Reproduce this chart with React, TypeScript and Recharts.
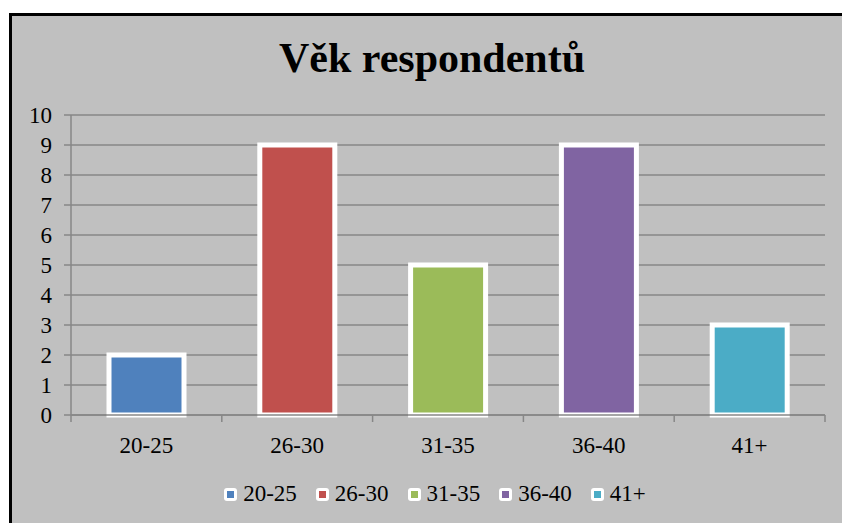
import React from "react";
import { Bar, BarChart, CartesianGrid, Cell, Legend, XAxis, YAxis } from "recharts";

const categories = ["20-25", "26-30", "31-35", "36-40", "41+"];
const counts = [2, 9, 5, 9, 3];
const colors = ["#4F81BD", "#C0504D", "#9BBB59", "#8064A2", "#4BACC6"];
const yTicks = [0, 1, 2, 3, 4, 5, 6, 7, 8, 9, 10];

const FONT = "'Liberation Serif', 'Times New Roman', serif";
const GRID = "#878787";

const CHART_W = 842;
const MARGIN = { top: 115, right: 17, bottom: 48, left: 11 };
const Y_AXIS_W = 60;
const PLOT_W = CHART_W - MARGIN.left - MARGIN.right - Y_AXIS_W;
const HALF_BAND = PLOT_W / categories.length / 2;

const data = categories.map((name, i) => ({ name, value: counts[i] }));

// category labels centred, tick marks on the band edges (Excel style)
function CategoryTick(props: any) {
  const { x, y, payload, index } = props;
  return (
    <g>
      <line x1={x - HALF_BAND} x2={x - HALF_BAND} y1={y} y2={y + 7} stroke={GRID} strokeWidth={1.5} />
      {index === categories.length - 1 && (
        <line x1={x + HALF_BAND} x2={x + HALF_BAND} y1={y} y2={y + 7} stroke={GRID} strokeWidth={1.5} />
      )}
      <text x={x} y={y + 22} dy="0.71em" textAnchor="middle" fill="#000" fontSize={23} fontFamily={FONT}>
        {payload.value}
      </text>
    </g>
  );
}

function LegendRow() {
  return (
    <div
      style={{
        display: "flex",
        justifyContent: "center",
        alignItems: "center",
        fontFamily: FONT,
        fontSize: 23,
        color: "#000",
      }}
    >
      {categories.map((c, i) => (
        <div key={c} style={{ display: "flex", alignItems: "center", marginRight: i < categories.length - 1 ? 19 : 0 }}>
          <span
            style={{
              display: "inline-block",
              width: 13,
              height: 13,
              background: "#fff",
              borderRadius: 3,
              position: "relative",
              marginRight: 6,
            }}
          >
            <span
              style={{
                position: "absolute",
                left: 3,
                top: 3,
                width: 7,
                height: 7,
                background: colors[i],
              }}
            />
          </span>
          <span>{c}</span>
        </div>
      ))}
    </div>
  );
}

export default function App() {
  return (
    <div style={{ position: "absolute", left: 0, top: 0, width: 842, height: 523, overflow: "hidden", background: "#fff" }}>
      <div
        style={{
          position: "absolute",
          left: 9,
          top: 13,
          width: 900,
          height: 600,
          border: "3px solid #000",
          background: "#C0C0C0",
        }}
      />
      <div
        style={{
          position: "absolute",
          left: 0,
          top: 34,
          width: 864,
          textAlign: "center",
          fontFamily: FONT,
          fontWeight: "bold",
          fontSize: 42,
          lineHeight: "48px",
          color: "#000",
        }}
      >
        Věk respondentů
      </div>
      <div style={{ position: "absolute", left: 0, top: 0 }}>
        <BarChart width={CHART_W} height={523} data={data} margin={MARGIN}>
          <CartesianGrid horizontal vertical={false} stroke={GRID} strokeWidth={1.5} />
          <XAxis
            dataKey="name"
            height={30}
            axisLine={{ stroke: GRID, strokeWidth: 1.5 }}
            tickLine={false}
            tickSize={0}
            tickMargin={0}
            interval={0}
            tick={<CategoryTick />}
          />
          <YAxis
            width={Y_AXIS_W}
            domain={[0, 10]}
            ticks={yTicks}
            interval={0}
            tickSize={7}
            tickMargin={12}
            tick={{ fill: "#000", fontSize: 23, fontFamily: FONT }}
            tickLine={{ stroke: GRID, strokeWidth: 1.5 }}
            axisLine={{ stroke: GRID, strokeWidth: 1.5 }}
          />
          <Bar dataKey="value" barSize={75} stroke="#fff" strokeWidth={5} isAnimationActive={false}>
            {data.map((d, i) => (
              <Cell key={d.name} fill={colors[i]} />
            ))}
          </Bar>
          <Legend
            content={() => <LegendRow />}
            wrapperStyle={{ position: "absolute", left: 0, top: 481, width: 870, height: 30 }}
          />
        </BarChart>
      </div>
    </div>
  );
}
